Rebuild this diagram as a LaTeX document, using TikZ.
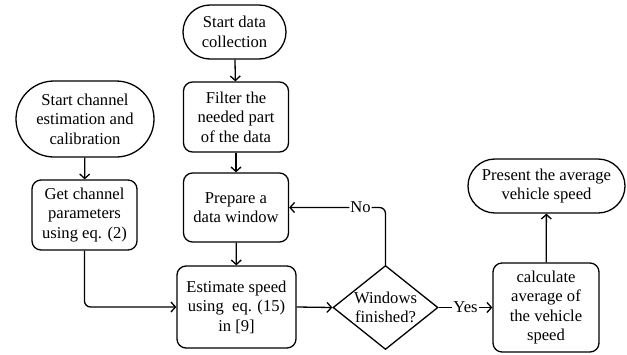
\documentclass[tikz,border=0pt]{standalone}
\usepackage{fontspec}
\setmainfont{Liberation Serif}
\usetikzlibrary{shapes.misc,shapes.geometric,arrows.meta}
\begin{document}
\begin{tikzpicture}[x=1pt,y=-1pt, font=\fontsize{16.6}{19.5}\selectfont,
  base/.style={draw, line width=1.3pt, align=center, inner sep=0pt},
  term/.style={base, rounded rectangle},
  proc/.style={base, rectangle, rounded corners=9pt},
  dec/.style={base, diamond},
  arr/.style={line width=1.3pt, -{Straight Barb[length=4.5pt,width=10pt]}},
  lbl/.style={fill=white, inner sep=1pt}
]
\useasboundingbox (0,0) rectangle (627,354);
\node[term, minimum width=103pt, minimum height=54pt] (start) at (234.5,32) {Start data\\collection};
\node[proc, minimum width=105pt, minimum height=70pt] (filter) at (236,117) {Filter the\\needed part\\of the data};
\node[term, minimum width=138pt, minimum height=76pt] (startch) at (85,119) {Start channel\\estimation and\\calibration};
\node[proc, minimum width=105pt, minimum height=70pt] (getch) at (84.5,215) {Get channel\\parameters\\using eq. (2)};
\node[proc, minimum width=105pt, minimum height=69pt] (prep) at (236,207.5) {Prepare a\\data window};
\node[proc, minimum width=119pt, minimum height=82pt] (est) at (236.5,307) {Estimate speed\\using~~eq. (15)\\in [9]};
\node[dec, minimum width=105pt, minimum height=84pt, label={[align=center]center:Windows\\finished?}] (dec) at (385.5,307.5) {};
\node[proc, minimum width=106pt, minimum height=89pt] (calc) at (546,307.5) {calculate\\average of\\the vehicle\\speed};
\node[term, minimum width=157pt, minimum height=54pt] (pres) at (546.5,186) {Present the average\\vehicle speed};

\draw[arr] (start) -- (filter);
\draw[arr] (filter) -- (prep);
\draw[arr] (startch) -- (getch);
\draw[arr, rounded corners=6pt] (getch.south) |- (est.west);
\draw[arr] (prep) -- (est);
\draw[arr] (est.east) -- (dec.west);
\draw[arr] (dec.east) -- node[lbl] {Yes} (calc.west);
\draw[arr, rounded corners=6pt] (dec.north) |- node[lbl, pos=0.63] {No} (prep.east);
\draw[arr] (calc) -- (pres);
\end{tikzpicture}
\end{document}
